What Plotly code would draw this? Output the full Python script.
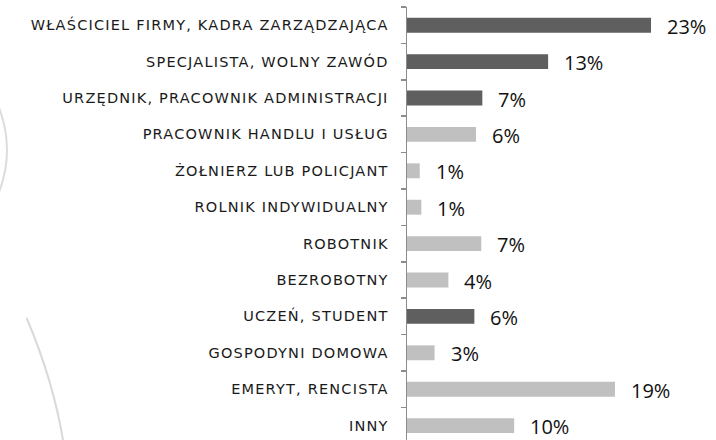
import plotly.graph_objects as go

categories = [
    "WŁAŚCICIEL FIRMY, KADRA ZARZĄDZAJĄCA",
    "SPECJALISTA, WOLNY ZAWÓD",
    "URZĘDNIK, PRACOWNIK ADMINISTRACJI",
    "PRACOWNIK HANDLU I USŁUG",
    "ŻOŁNIERZ LUB POLICJANT",
    "ROLNIK INDYWIDUALNY",
    "ROBOTNIK",
    "BEZROBOTNY",
    "UCZEŃ, STUDENT",
    "GOSPODYNI DOMOWA",
    "EMERYT, RENCISTA",
    "INNY",
]
values = [23.0, 13.3, 7.1, 6.5, 1.2, 1.35, 7.0, 3.9, 6.35, 2.6, 19.6, 10.1]
value_labels = ["23%", "13%", "7%", "6%", "1%", "1%", "7%", "4%", "6%", "3%", "19%", "10%"]
highlight = [True, True, True, False, False, False, False, False, True, False, False, False]

DARK = "#5f5f5f"
LIGHT = "#c0c0c0"
colors = [DARK if h else LIGHT for h in highlight]

W, H = 716, 440
L, R, T, B = 407, 17, 7, 0
pw, ph = W - L - R, H - T - B
px_per_unit = 10.61
row_px = 36.4

fig = go.Figure(go.Bar(
    x=values, y=categories, orientation="h",
    marker=dict(color=colors, line=dict(width=0)),
    width=0.41, hoverinfo="skip",
))

for v, c, t in zip(values, categories, value_labels):
    fig.add_annotation(x=v, y=c, text=t, showarrow=False, xanchor="left",
                       yanchor="middle", xshift=14, yshift=-1,
                       font=dict(family="Open Sans", size=20, color="#111111"))

def px2paper(x, y):
    return (x - L) / pw, 1 - (y - T) / ph

def arc_path(p0, pc, p1):
    a = px2paper(*p0); b = px2paper(*pc); c = px2paper(*p1)
    return f"M {a[0]},{a[1]} Q {b[0]},{b[1]} {c[0]},{c[1]}"

fig.add_shape(type="path", xref="paper", yref="paper",
              path=arc_path((26.7, 318), (53.2, 381), (63, 440)),
              line=dict(color="#d9d9d9", width=2), layer="below")
fig.add_shape(type="path", xref="paper", yref="paper",
              path=arc_path((-2, 105), (16, 150), (-2, 195)),
              line=dict(color="#dcdcdc", width=2), layer="below")

fig.update_layout(
    width=W, height=H,
    margin=dict(l=L, r=R, t=T, b=B, pad=0, autoexpand=False),
    plot_bgcolor="white", paper_bgcolor="white",
    showlegend=False,
    xaxis=dict(range=[0, pw / px_per_unit], visible=False, fixedrange=True),
    yaxis=dict(
        type="category", categoryorder="array", categoryarray=categories,
        range=[-0.5 + ph / row_px, -0.5], fixedrange=True,
        showline=True, linecolor="#8c8c8c", linewidth=1.5,
        ticks="outside", ticklen=5, tickcolor="#8c8c8c", tickwidth=1.5,
        tickson="boundaries", showgrid=False, zeroline=False,
        ticklabelstandoff=14,
        tickfont=dict(family="DejaVu Sans", size=14.5, color="#1a1a1a"),
    ),
)

post = (
    "document.body.style.margin='0';document.body.style.overflow='hidden';"
    "var s=document.createElement('style');"
    "s.textContent='.ytick text{letter-spacing:1.2px;font-weight:300;}';"
    "document.head.appendChild(s);"
)
fig.write_html("out.html", config={"displayModeBar": False, "staticPlot": True},
               post_script=post)
